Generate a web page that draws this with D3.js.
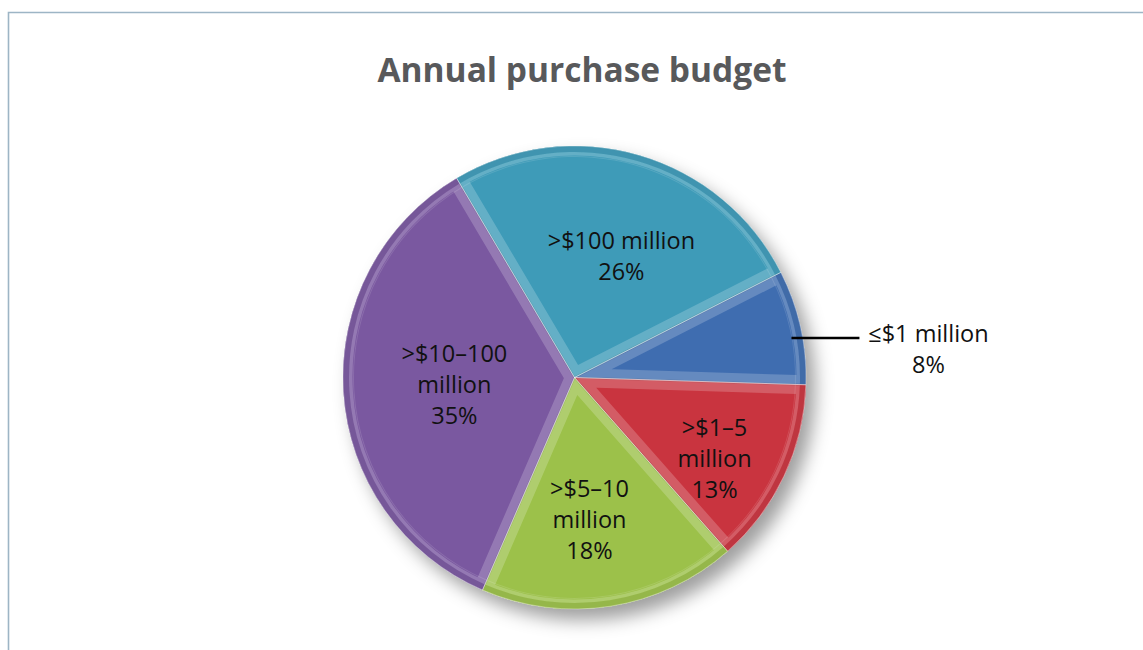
<!DOCTYPE html>
<html>
<head>
<meta charset="utf-8">
<script src="https://cdn.jsdelivr.net/npm/d3@7/dist/d3.min.js"></script>
<style>
  html, body { margin: 0; padding: 0; background: #fff; }
  svg { display: block; }
</style>
</head>
<body>
<svg id="chart" width="1143" height="650"></svg>
<script>
// Annual purchase budget — share of respondents by budget band
const categories = ["≤$1 million", ">$1–5 million", ">$5–10 million", ">$10–100 million", ">$100 million"];
const shares = [8, 13, 18, 35, 26];
const labelLines = [
  ["≤$1 million", "8%"],
  [">$1–5", "million", "13%"],
  [">$5–10", "million", "18%"],
  [">$10–100", "million", "35%"],
  [">$100 million", "26%"]
];
const colors = ["#3f6db0", "#c9343f", "#9cc14a", "#7a58a0", "#3e9bb8"];

const W = 1143, H = 650;
const cx = 574.5, cy = 377.5, R = 231.5;
const startDeg = 63;

const svg = d3.select("#chart");
const defs = svg.append("defs");

// soft drop shadow under the pie
const sh = defs.append("filter").attr("id", "pieShadow")
  .attr("x", "-20%").attr("y", "-20%").attr("width", "150%").attr("height", "150%");
sh.append("feDropShadow").attr("dx", 9).attr("dy", 11).attr("stdDeviation", 9)
  .attr("flood-color", "#000").attr("flood-opacity", 0.38);

// outer frame
svg.append("path")
  .attr("d", `M8.5,${H + 5} V12.5 H${W + 5}`)
  .attr("fill", "none").attr("stroke", "#9db5c5").attr("stroke-width", 1.6);

// title
svg.append("text")
  .attr("x", 582).attr("y", 82)
  .attr("text-anchor", "middle")
  .attr("font-family", "'Open Sans', sans-serif")
  .attr("font-weight", 700)
  .attr("font-size", 33.5)
  .attr("fill", "#58595b")
  .text("Annual purchase budget");

const pie = d3.pie().sort(null).value(d => d)
  .startAngle(startDeg * Math.PI / 180)
  .endAngle(startDeg * Math.PI / 180 + 2 * Math.PI);
const arcs = pie(shares);

const arc = d3.arc().innerRadius(0).outerRadius(R);
const rimArc = d3.arc().innerRadius(R - 6).outerRadius(R);
const lineArc = d3.arc().innerRadius(R - 11).outerRadius(R - 10);

const g = svg.append("g").attr("transform", `translate(${cx},${cy})`);

// shadow layer
g.append("g").attr("filter", "url(#pieShadow)")
  .selectAll("path").data(arcs).join("path")
  .attr("d", arc).attr("fill", (d, i) => colors[i]);

const slices = g.append("g").selectAll("g").data(arcs).join("g");

slices.each(function (d, i) {
  const s = d3.select(this);
  const id = "clip" + i;
  defs.append("clipPath").attr("id", id)
    .append("path").attr("d", arc(d)).attr("transform", `translate(${cx},${cy})`);
  s.append("path").attr("d", arc(d)).attr("fill", colors[i]);

  const inner = s.append("g").attr("clip-path", `url(#${id})`)
    .attr("transform", `translate(${-cx},${-cy})`)
    .append("g").attr("transform", `translate(${cx},${cy})`);
  // bevelled edges along the slice boundary
  inner.append("path").attr("d", arc(d))
    .attr("fill", "none").attr("stroke", "#ffffff").attr("stroke-opacity", 0.2)
    .attr("stroke-width", 19).attr("stroke-linejoin", "miter");
  inner.append("path").attr("d", arc(d))
    .attr("fill", "none").attr("stroke", "#000").attr("stroke-opacity", 0.10)
    .attr("stroke-width", 2);
  // darker rim and a faint highlight just inside it
  inner.append("path").attr("d", rimArc(d))
    .attr("fill", colors[i]).attr("fill-opacity", 0.85);
  inner.append("path").attr("d", rimArc(d))
    .attr("fill", "#000").attr("fill-opacity", 0.06);
  inner.append("path").attr("d", lineArc(d))
    .attr("fill", "#fff").attr("fill-opacity", 0.12);
});

// thin separators between slices
g.append("g").selectAll("path").data(arcs).join("path")
  .attr("d", arc).attr("fill", "none")
  .attr("stroke", "#ffffff").attr("stroke-opacity", 0.35).attr("stroke-width", 1);

// labels
const labelRadius = [0, 0.70, 0.62, 0.52, 0.56];
const labelAngleShift = [0, 5, 3, 0, 5];
const lineH = 31;
const fontStack = "'Open Sans', sans-serif";
const fontSize = 23.5;

arcs.forEach((d, i) => {
  if (i === 0) return;
  const mid = (d.startAngle + d.endAngle) / 2 + labelAngleShift[i] * Math.PI / 180;
  const rr = R * labelRadius[i];
  const x = rr * Math.sin(mid), y = -rr * Math.cos(mid);
  const lines = labelLines[i];
  const t = g.append("text")
    .attr("text-anchor", "middle")
    .attr("font-family", fontStack).attr("font-size", fontSize).attr("fill", "#111");
  lines.forEach((ln, k) => {
    t.append("tspan").attr("x", x)
      .attr("y", y + (k - (lines.length - 1) / 2) * lineH + 8)
      .text(ln);
  });
});

// small slice: label outside with a leader line
{
  const d = arcs[0];
  const a = (d.startAngle + d.endAngle) / 2 + 2.3 * Math.PI / 180;
  const px = (R - 11) * Math.sin(a), py = -(R - 11) * Math.cos(a);
  g.append("line")
    .attr("x1", px).attr("y1", py).attr("x2", px + 68).attr("y2", py)
    .attr("stroke", "#000").attr("stroke-width", 2.4);
  const t = g.append("text")
    .attr("text-anchor", "middle")
    .attr("font-family", fontStack).attr("font-size", fontSize).attr("fill", "#111");
  labelLines[0].forEach((ln, k) => {
    t.append("tspan").attr("x", px + 137)
      .attr("y", py + (k - 0.5) * lineH + 8 + 11).text(ln);
  });
}
</script>
</body>
</html>
